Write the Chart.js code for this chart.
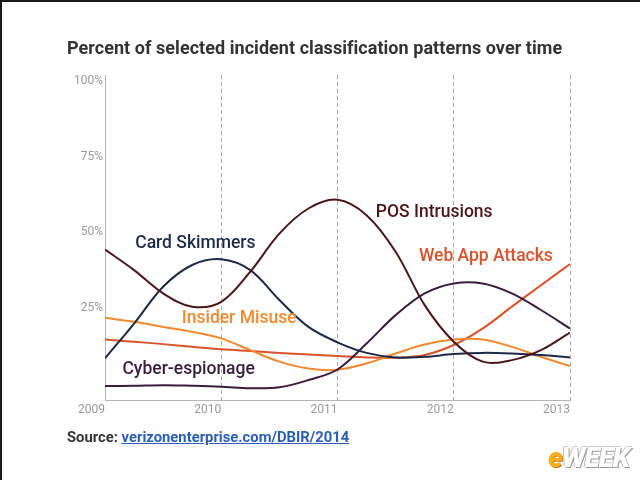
<!DOCTYPE html>
<html>
<head>
<meta charset="utf-8">
<script src="https://cdn.jsdelivr.net/npm/chart.js@4"></script>
<style>
    html, body { margin: 0; padding: 0; background: #fff; }
    #frame {
        position: relative; width: 640px; height: 480px; overflow: hidden;
        box-sizing: border-box; border-left: 2px solid #1a1a1a; border-top: 2px solid #1a1a1a;
        background: #fff; font-family: Roboto, "Open Sans", sans-serif;
    }
    #chartBox { position: absolute; left: -2px; top: -2px; width: 640px; height: 480px; }
    #title {
        position: absolute; left: 65px; top: 35px; white-space: nowrap;
        font-size: 18px; font-weight: 700; color: #333; letter-spacing: 0.05px;
    }
    #source {
        position: absolute; left: 65px; top: 426px; white-space: nowrap;
        font-size: 14.8px; font-weight: 700; color: #333;
    }
    #source a { color: #2b5fb4; text-decoration: underline; }
    #logo {
        position: absolute; left: 546px; top: 439px; white-space: nowrap;
        font-size: 28px; font-weight: 900; font-style: italic; letter-spacing: -1px;
        color: #fff; text-shadow: 1px 1px 0 #999, -1px 0 0 #bbb, 0 -1px 0 #ccc;
    }
    #logo .e { color: #f2b01e; text-shadow: 1px 1px 0 #c77a10; }
</style>
</head>
<body>
<div id="frame">
    <div id="chartBox"><canvas id="incidentChart" width="640" height="480"></canvas></div>
    <div id="title">Percent of selected incident classification patterns over time</div>
    <div id="source">Source: <a>verizonenterprise.com/DBIR/2014</a></div>
    <div id="logo"><span class="e">e</span>WEEK</div>
</div>
<script>
// ── data (percent, every quarter year) ──
const years = [2009, 2009.25, 2009.5, 2009.75, 2010, 2010.25, 2010.5, 2010.75, 2011,
               2011.25, 2011.5, 2011.75, 2012, 2012.25, 2012.5, 2012.75, 2013];
const yearTicks = [2009, 2010, 2011, 2012, 2013];
const pctTicks  = [25, 50, 75, 100];

const posIntrusions  = [46.2, 39.4, 31.7, 27.3, 28.9, 38.9, 51.5, 59.8, 62.7,
                        57.6, 45.5, 27.8, 15.7, 9.1, 9.6, 12.9, 18.7];
const cardSkimmers   = [10.2, 21.7, 33.9, 41.1, 43.0, 39.4, 29.5, 20.6, 15.5,
                        12.0, 10.5, 10.7, 11.6, 12.0, 11.8, 11.3, 10.5];
const cyberEspionage = [1.0, 1.1, 1.3, 1.1, 0.8, 0.3, 0.6, 3.0, 6.5,
                        15.1, 24.5, 31.7, 35.0, 35.0, 31.7, 26.2, 20.1];
const insiderMisuse  = [23.6, 22.3, 20.6, 19.0, 16.8, 12.9, 9.1, 6.8, 6.4,
                        8.5, 11.8, 14.8, 16.4, 16.4, 14.0, 10.7, 7.6];
const webAppAttacks  = [16.4, 15.7, 14.9, 14.0, 13.2, 12.6, 12.0, 11.5, 11.0,
                        10.5, 10.4, 11.3, 14.6, 20.1, 27.3, 34.4, 41.4];

const seriesNames = ['POS Intrusions', 'Card Skimmers', 'Cyber-espionage', 'Insider Misuse', 'Web App Attacks'];

// series colours + where each name sits (in year / percent units)
const seriesColors = ['#4b1619', '#1d2947', '#3b1c3d', '#f0892f', '#d8532b'];
const labelSpots   = [[2011.33, 58.6], [2009.26, 48.3], [2009.15, 6.3], [2009.66, 23.2], [2011.70, 44.0]];

function toPoints(values) {
    return values.map((v, i) => ({ x: years[i], y: v }));
}

// draws the series names next to their lines
const seriesLabels = {
    id: 'seriesLabels',
    afterDatasetsDraw(chart) {
        const { ctx, scales } = chart;
        ctx.save();
        ctx.font = '500 17.5px Roboto, "Open Sans", sans-serif';
        ctx.textBaseline = 'middle';
        ctx.textAlign = 'left';
        seriesNames.forEach((name, i) => {
            ctx.fillStyle = seriesColors[i];
            ctx.fillText(name, scales.x.getPixelForValue(labelSpots[i][0]), scales.y.getPixelForValue(labelSpots[i][1]));
        });
        ctx.restore();
    },
};

const allSeries = [posIntrusions, cardSkimmers, cyberEspionage, insiderMisuse, webAppAttacks];

new Chart(document.getElementById('incidentChart'), {
    type: 'line',
    data: {
        datasets: allSeries.map((vals, i) => ({
            label: seriesNames[i],
            data: toPoints(vals),
            borderColor: seriesColors[i],
            borderWidth: 2,
            tension: 0.35,
            pointRadius: 0,
            fill: false,
        })),
    },
    options: {
        responsive: false,
        animation: false,
        events: [],
        layout: { padding: { top: 75, right: 70, left: 0, bottom: 50 } },
        plugins: { legend: { display: false }, tooltip: { enabled: false } },
        scales: {
            x: {
                type: 'linear', min: 2009, max: 2013,
                afterBuildTicks: s => { s.ticks = yearTicks.map(v => ({ value: v })); },
                afterFit: s => { s.height = 30; },
                // border.dash dashes the grid lines in v4
                border: { display: true, color: '#b5b5b5', width: 1, dash: [4, 3] },
                grid: {
                    display: true, drawTicks: false, lineWidth: 1,
                    color: c => c.tick && c.tick.value === 2009 ? 'rgba(0,0,0,0)' : '#a8a8a8',
                },
                ticks: {
                    align: 'end', padding: 3, color: '#9a9a9a',
                    font: { size: 12, family: 'Roboto, "Open Sans", sans-serif' },
                    callback: v => String(v),
                },
            },
            y: {
                min: -3.6, max: 104,
                afterBuildTicks: s => { s.ticks = pctTicks.map(v => ({ value: v })); },
                afterFit: s => { s.width = 105; },
                border: { display: true, color: '#b5b5b5', width: 1 },
                grid: { display: false, drawTicks: false },
                ticks: {
                    padding: 2, labelOffset: -6, color: '#9a9a9a',
                    font: { size: 12, family: 'Roboto, "Open Sans", sans-serif' },
                    callback: v => v + '%',
                },
            },
        },
    },
    plugins: [seriesLabels],
});
</script>
</body>
</html>
